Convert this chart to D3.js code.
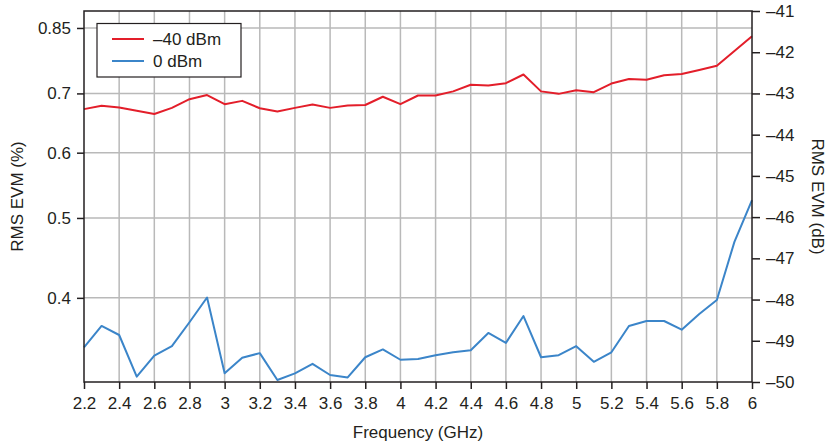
<!DOCTYPE html>
<html><head><meta charset="utf-8">
<script src="https://cdn.jsdelivr.net/npm/d3@7"></script>
<style>
html,body{margin:0;padding:0;background:#fff;}
text{font-family:"Liberation Sans",Arial,Helvetica,sans-serif;fill:#231f20;}
</style></head>
<body><svg id="chart" width="832" height="446"></svg>
<script>
const freqs = [2.2,2.3,2.4,2.5,2.6,2.7,2.8,2.9,3.0,3.1,3.2,3.3,3.4,3.5,3.6,3.7,3.8,3.9,4.0,4.1,4.2,4.3,4.4,4.5,4.6,4.7,4.8,4.9,5.0,5.1,5.2,5.3,5.4,5.5,5.6,5.7,5.8,5.9,6.0];
// RMS EVM in dB
const evmMinus40 = [-43.38,-43.30,-43.34,-43.42,-43.50,-43.35,-43.14,-43.04,-43.26,-43.18,-43.36,-43.44,-43.35,-43.27,-43.35,-43.29,-43.28,-43.08,-43.26,-43.05,-43.05,-42.95,-42.79,-42.81,-42.75,-42.54,-42.95,-43.01,-42.92,-42.97,-42.76,-42.65,-42.67,-42.56,-42.53,-42.43,-42.33,-41.97,-41.61];
const evm0 = [-49.16,-48.64,-48.86,-49.87,-49.36,-49.13,-48.55,-47.95,-49.79,-49.41,-49.30,-49.95,-49.79,-49.56,-49.83,-49.89,-49.40,-49.21,-49.46,-49.44,-49.35,-49.28,-49.23,-48.81,-49.05,-48.40,-49.40,-49.35,-49.13,-49.51,-49.28,-48.64,-48.52,-48.52,-48.73,-48.35,-48.01,-46.60,-45.59];
const seriesNames = ["\u201340 dBm","0 dBm"];
const seriesColors = ["#e31e2a","#3b85c9"];
const xTicks = [2.2,2.4,2.6,2.8,3.0,3.2,3.4,3.6,3.8,4.0,4.2,4.4,4.6,4.8,5.0,5.2,5.4,5.6,5.8,6.0];
// left-axis tick positions (in %) and their printed labels
const leftTicksPct = [0.4,0.5,0.6,0.708,0.85];
const leftTickLabels = ["0.4","0.5","0.6","0.7","0.85"];
const rightTicksDb = [-50,-49,-48,-47,-46,-45,-44,-43,-42,-41];
const xTitle = "Frequency (GHz)";
const yLeftTitle = "RMS EVM (%)";
const yRightTitle = "RMS EVM (dB)";

const svg = d3.select("#chart");
const m = {left:84, right:80, top:11, bottom:64};
const W = 832, H = 446;
const x = d3.scaleLinear().domain([2.2,6.0]).range([m.left, W-m.right]);
const y = d3.scaleLinear().domain([-50,-41]).range([H-m.bottom, m.top]);
const pctToDb = p => 20*Math.log10(p/100);
const fmtMinus = v => String(v).replace("-","\u2013");

// grid
const g = svg.append("g");
g.selectAll("line.vg").data(xTicks.slice(1,-1)).join("line")
  .attr("x1",d=>x(d)).attr("x2",d=>x(d)).attr("y1",y(-50)).attr("y2",y(-41))
  .attr("stroke","#b9b9b9").attr("stroke-width",1.5);
g.selectAll("line.hg").data(leftTicksPct).join("line")
  .attr("x1",x(2.2)).attr("x2",x(6.0)).attr("y1",d=>y(pctToDb(d))).attr("y2",d=>y(pctToDb(d)))
  .attr("stroke","#b9b9b9").attr("stroke-width",1.5);

// lines
const line = d3.line().x((d,i)=>x(freqs[i])).y(d=>y(d));
[evmMinus40, evm0].forEach((s,k)=>{
  svg.append("path").datum(s).attr("d",line).attr("fill","none")
    .attr("stroke",seriesColors[k]).attr("stroke-width",2).attr("stroke-linejoin","round");
});

// axes
const fs = "17px";
const xAxis = svg.append("g").attr("transform",`translate(0,${y(-50)})`)
  .call(d3.axisBottom(x).tickValues(xTicks).tickFormat(d=>d3.format("")(+d.toFixed(1))).tickSize(7).tickPadding(8));
const yL = svg.append("g").attr("transform",`translate(${x(2.2)},0)`)
  .call(d3.axisLeft(y).tickValues(leftTicksPct.map(pctToDb)).tickFormat((d,i)=>leftTickLabels[i]).tickSize(7).tickPadding(6));
const yR = svg.append("g").attr("transform",`translate(${x(6.0)},0)`)
  .call(d3.axisRight(y).tickValues(rightTicksDb).tickFormat(fmtMinus).tickSize(8).tickPadding(6));
[xAxis,yL,yR].forEach(a=>{
  a.select(".domain").remove();
  a.selectAll(".tick line").attr("stroke","#231f20").attr("stroke-width",1.5);
  a.selectAll(".tick text").attr("font-size",fs).attr("fill","#231f20")
    .style("font-family","'Liberation Sans',Arial,sans-serif");
});
// frame
svg.append("rect").attr("x",x(2.2)).attr("y",y(-41)).attr("width",x(6.0)-x(2.2)).attr("height",y(-50)-y(-41))
  .attr("fill","none").attr("stroke","#231f20").attr("stroke-width",1.5);

// titles
svg.append("text").attr("x",(x(2.2)+x(6.0))/2).attr("y",438).attr("text-anchor","middle").attr("font-size",fs).text(xTitle);
svg.append("text").attr("transform",`translate(23,${(y(-50)+y(-41))/2}) rotate(-90)`).attr("text-anchor","middle").attr("font-size",fs).text(yLeftTitle);
svg.append("text").attr("transform",`translate(812,${(y(-50)+y(-41))/2}) rotate(90)`).attr("text-anchor","middle").attr("font-size",fs).text(yRightTitle);

// legend
const lg = svg.append("g");
lg.append("rect").attr("x",97).attr("y",23.5).attr("width",144).attr("height",53.5)
  .attr("fill","#fff").attr("stroke","#231f20").attr("stroke-width",1.2);
seriesNames.forEach((n,i)=>{
  const yy = 39 + i*22;
  lg.append("line").attr("x1",112).attr("x2",144).attr("y1",yy).attr("y2",yy)
    .attr("stroke",seriesColors[i]).attr("stroke-width",2);
  lg.append("text").attr("x",153).attr("y",yy+6).attr("font-size",fs).text(n);
});
</script></body></html>
